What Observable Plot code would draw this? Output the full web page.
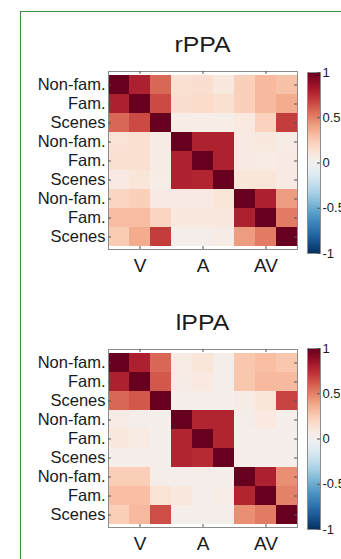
<!DOCTYPE html>
<html>
<head>
<meta charset="utf-8">
<script src="https://cdn.jsdelivr.net/npm/d3@7"></script>
<script src="https://cdn.jsdelivr.net/npm/@observablehq/plot@0.6"></script>
<style>
  html, body { margin: 0; padding: 0; background: #fff; }
  body { width: 341px; height: 559px; overflow: hidden; font-family: "Liberation Sans", Arial, sans-serif; }
  #page { position: relative; width: 341px; height: 559px; overflow: hidden; }
  .box { position: absolute; left: 20px; top: 11px; width: 420px; height: 620px; border: 1.5px solid #3f8f3f; box-sizing: border-box; }
  .title { position: absolute; left: 108px; width: 189px; text-align: center; font-size: 22px; line-height: 22px; color: #1a1a1a; transform: scaleX(1.13); }
  .abs { position: absolute; }
</style>
</head>
<body>
<div id="page">
  <div class="box"></div>
</div>
<script>
// Modality groups and stimulus categories (rows and columns share the same order)
const modalities = ["V", "A", "AV"];
const stimuli = ["Non-fam.", "Fam.", "Scenes"];
const colorbarTicks = [-1, -0.5, 0, 0.5, 1];

// Pattern correlations, right PPA
const rPPA = [
  [1.00, 0.80, 0.58, 0.15, 0.16, 0.10, 0.23, 0.32, 0.29],
  [0.80, 1.00, 0.66, 0.16, 0.18, 0.15, 0.23, 0.32, 0.37],
  [0.58, 0.66, 1.00, 0.05, 0.05, 0.05, 0.09, 0.22, 0.70],
  [0.13, 0.15, 0.06, 1.00, 0.79, 0.79, 0.08, 0.10, 0.06],
  [0.15, 0.15, 0.06, 0.79, 1.00, 0.79, 0.08, 0.07, 0.08],
  [0.08, 0.12, 0.05, 0.79, 0.78, 1.00, 0.12, 0.12, 0.08],
  [0.21, 0.23, 0.08, 0.08, 0.08, 0.12, 1.00, 0.80, 0.42],
  [0.31, 0.31, 0.21, 0.10, 0.10, 0.10, 0.80, 1.00, 0.52],
  [0.25, 0.37, 0.70, 0.04, 0.04, 0.06, 0.42, 0.52, 1.00]
];

// Pattern correlations, left PPA
const lPPA = [
  [1.00, 0.80, 0.58, 0.07, 0.12, 0.04, 0.27, 0.30, 0.27],
  [0.80, 1.00, 0.62, 0.06, 0.09, 0.04, 0.27, 0.32, 0.32],
  [0.58, 0.62, 1.00, 0.03, 0.03, 0.03, 0.06, 0.12, 0.68],
  [0.07, 0.04, 0.03, 1.00, 0.78, 0.78, 0.04, 0.09, 0.03],
  [0.10, 0.07, 0.03, 0.78, 1.00, 0.78, 0.03, 0.03, 0.03],
  [0.03, 0.03, 0.03, 0.78, 0.76, 1.00, 0.03, 0.03, 0.03],
  [0.24, 0.24, 0.04, 0.04, 0.04, 0.04, 1.00, 0.80, 0.46],
  [0.30, 0.30, 0.14, 0.10, 0.04, 0.05, 0.78, 1.00, 0.50],
  [0.24, 0.32, 0.65, 0.03, 0.03, 0.04, 0.46, 0.52, 1.00]
];

const keys = modalities.flatMap(m => stimuli.map(s => `${m}|${s}`));
const groupCenters = modalities.map((m, i) => keys[i * 3 + 1]);

const colorScale = { type: "linear", scheme: "rdbu", reverse: true, domain: [-1, 1] };
const font = '"Liberation Sans", Arial, sans-serif';

const HM_W = 341, HM_ML = 108, HM_MR = 44, HM_MT = 10, HM_MB = 30, HM_INNER_H = 178;
const innerW = HM_W - HM_ML - HM_MR;
const innerH = HM_INNER_H;

function heatmap(matrix) {
  const cells = [];
  matrix.forEach((row, i) => row.forEach((v, j) => cells.push({ row: keys[i], col: keys[j], r: v })));
  return Plot.plot({
    width: HM_W,
    height: HM_MT + HM_INNER_H + HM_MB,
    marginLeft: HM_ML, marginRight: HM_MR, marginTop: HM_MT, marginBottom: HM_MB,
    x: { domain: keys, padding: 0, axis: null },
    y: { domain: keys, padding: 0, axis: null },
    color: colorScale,
    style: { fontFamily: font, color: "#1a1a1a", background: "transparent", overflow: "visible" },
    marks: [
      Plot.cell(cells, { x: "col", y: "row", fill: "r", inset: 0 }),
      Plot.frame({ stroke: "#8c8c8c", strokeWidth: 1 }),
      // inward tick marks on all four sides
      Plot.tickY(keys, { y: d => d, stroke: "#555", insetRight: innerW - 3 }),
      Plot.tickY(keys, { y: d => d, stroke: "#555", insetLeft: innerW - 3 }),
      Plot.tickX(groupCenters, { x: d => d, stroke: "#555", insetTop: innerH - 3 }),
      Plot.tickX(groupCenters, { x: d => d, stroke: "#555", insetBottom: innerH - 3 }),
      Plot.axisY({ anchor: "left", tickSize: 0, tickPadding: 3, fontSize: 16.5, label: null,
        tickFormat: k => k.split("|")[1] }),
      Plot.axisX({ anchor: "bottom", ticks: groupCenters, tickSize: 0, tickPadding: 9, fontSize: 19, label: null,
        tickFormat: k => k.split("|")[0] })
    ]
  });
}

const CB_W = 60, CB_ML = 7, CB_BAR = 13, CB_MT = 10, CB_INNER_H = 181;
function colorbar() {
  return Plot.plot({
    width: CB_W,
    height: CB_MT + CB_INNER_H + 10,
    marginLeft: CB_ML, marginRight: CB_W - CB_ML - CB_BAR, marginTop: CB_MT, marginBottom: 10,
    x: { domain: [0, 1], axis: null },
    y: { domain: [-1, 1], axis: null },
    color: colorScale,
    style: { fontFamily: font, color: "#1a1a1a", background: "transparent", overflow: "visible" },
    marks: [
      Plot.raster({ x1: 0, x2: 1, y1: -1, y2: 1, fill: (x, y) => y, width: 2, height: 256, imageRendering: "auto" }),
      Plot.frame({ stroke: "#8c8c8c", strokeWidth: 1 }),
      Plot.tickY(colorbarTicks, { y: d => d, stroke: "#555", insetLeft: CB_BAR - 3 }),
      Plot.axisY({ anchor: "right", ticks: colorbarTicks, tickSize: 0, tickPadding: 2, fontSize: 13, label: null,
        tickFormat: d => String(d) })
    ]
  });
}

const page = document.getElementById("page");
function place(node, left, top) {
  node.classList.add("abs");
  node.style.left = left + "px";
  node.style.top = top + "px";
  page.appendChild(node);
}
function title(text, top) {
  const div = document.createElement("div");
  div.className = "title";
  div.style.top = top + "px";
  div.textContent = text;
  page.appendChild(div);
}

const panels = [
  { name: "rPPA", data: rPPA, frameTop: 71, cbTop: 72, titleTop: 33.5 },
  { name: "lPPA", data: lPPA, frameTop: 349, cbTop: 348, titleTop: 311.5 }
];
for (const p of panels) {
  title(p.name, p.titleTop);
  place(heatmap(p.data), 0, p.frameTop - HM_MT);
  place(colorbar(), 300, p.cbTop - CB_MT);
}
</script>
</body>
</html>
